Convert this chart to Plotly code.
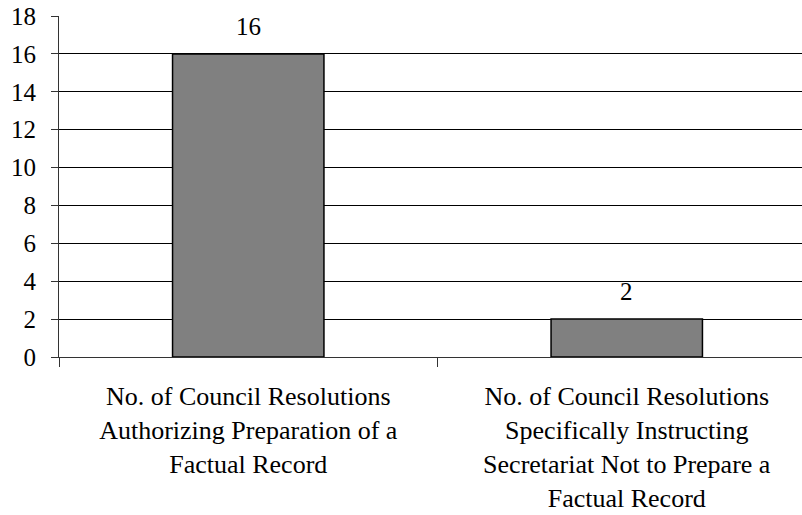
import plotly.graph_objects as go

categories = [
    "No. of Council Resolutions<br>Authorizing Preparation of a<br>Factual Record",
    "No. of Council Resolutions<br>Specifically Instructing<br>Secretariat Not to Prepare a<br>Factual Record",
]
values = [16, 2]
y_ticks = list(range(0, 19, 2))

FONT = "Liberation Serif"

fig = go.Figure()
fig.add_trace(go.Bar(
    x=categories, y=values,
    marker=dict(color="#808080", line=dict(color="#000000", width=1.5)),
    width=0.4,
    hoverinfo="y",
))

# value labels above the bars
for c, v in zip(categories, values):
    fig.add_annotation(x=c, y=v, text=str(v), showarrow=False,
                       yanchor="bottom", yshift=12,
                       font=dict(family=FONT, size=25, color="#000000"))

fig.update_layout(
    width=802, height=515,
    margin=dict(l=59, r=0, t=16, b=158, autoexpand=False),
    paper_bgcolor="white", plot_bgcolor="white",
    showlegend=False,
    font=dict(family=FONT, size=25, color="#000000"),
    xaxis=dict(
        range=[-0.5, 1.463], automargin=False,
        showgrid=False, zeroline=False,
        showline=True, linecolor="#333333", linewidth=1,
        ticks="outside", ticklen=9, tickcolor="#333333",
        tickson="boundaries",
        ticklabelstandoff=16,
        tickfont=dict(family=FONT, size=26),
    ),
    xaxis2=dict(
        overlaying="x", side="top", matches="x", automargin=False,
        showline=True, linecolor="#a0a0a0", linewidth=2,
        showticklabels=False, ticks="", showgrid=False, zeroline=False,
    ),
    yaxis=dict(
        range=[0, 18], tickvals=y_ticks, automargin=False,
        showgrid=True, gridcolor="#000000", gridwidth=1,
        zeroline=False,
        showline=True, linecolor="#333333", linewidth=1,
        ticks="outside", ticklen=7, tickcolor="#333333",
        ticklabelstandoff=10,
        tickfont=dict(family=FONT, size=25),
    ),
)

# drop the page's default body margin so the figure sits at the window corner
fig.write_html("out.html", config={"displayModeBar": False},
               post_script="document.body.style.margin = '0';")
